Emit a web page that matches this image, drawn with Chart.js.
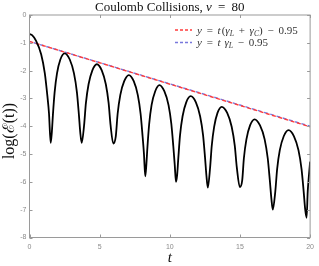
<!DOCTYPE html>
<html><head><meta charset="utf-8">
<script src="https://cdn.jsdelivr.net/npm/chart.js@4"></script>
<style>html,body{margin:0;padding:0;background:#fff}#wrap{width:319px;height:266px;position:relative}</style>
</head><body><div id="wrap"><canvas id="c" width="319" height="266"></canvas></div>
<script>
// time samples (t) and log(E(t))
const tValues = [
  0, 0.2, 0.45, 0.83, 1.09, 1.27, 1.39, 1.51,
  1.59, 1.67, 1.79, 1.96, 2.20, 2.50, 2.87, 3.17, 3.38, 3.52, 3.62, 3.72,
  3.89, 4.02, 4.21, 4.48, 4.80, 5.15, 5.44, 5.64, 5.78, 5.97,
  6.15, 6.28, 6.47, 6.75, 7.08, 7.43, 7.72, 7.92, 8.06, 8.16, 8.25,
  8.33, 8.41, 8.53, 8.70, 8.96, 9.26, 9.61, 9.91, 10.11, 10.25, 10.35, 10.44,
  10.52, 10.61, 10.73, 10.91, 11.17, 11.49, 11.86, 12.16, 12.37, 12.51, 12.61, 12.71,
  12.87, 12.99, 13.16, 13.40, 13.70, 14.09, 14.41, 14.63, 14.78, 14.99,
  15.16, 15.28, 15.46, 15.72, 16.04, 16.43, 16.76, 16.98, 17.13, 17.24, 17.34,
  17.52, 17.65, 17.84, 18.12, 18.46, 18.85, 19.17, 19.39, 19.54, 19.65, 19.75,
  19.83, 19.92, 20.0
];
const logE = [
  -0.69, -0.73, -0.91, -1.41, -2.09, -2.89, -3.54, -4.60,
  -4.23, -3.58, -2.78, -2.10, -1.60, -1.38, -1.60, -2.10, -2.78, -3.58, -4.23, -4.60,
  -3.97, -3.17, -2.49, -1.99, -1.77, -1.99, -2.49, -3.17, -3.97, -4.62,
  -4.36, -3.56, -2.88, -2.38, -2.16, -2.38, -2.88, -3.56, -4.36, -5.01, -5.80,
  -5.37, -4.72, -3.92, -3.24, -2.74, -2.52, -2.74, -3.24, -3.92, -4.72, -5.37, -6.00,
  -5.77, -5.12, -4.32, -3.64, -3.14, -2.92, -3.14, -3.64, -4.32, -5.12, -5.77, -6.21,
  -5.50, -4.70, -4.02, -3.52, -3.30, -3.52, -4.02, -4.70, -5.50, -6.19,
  -5.95, -5.15, -4.47, -3.97, -3.75, -3.97, -4.47, -5.15, -5.95, -6.60, -7.00,
  -6.34, -5.54, -4.86, -4.36, -4.14, -4.36, -4.86, -5.54, -6.34, -6.99, -7.29,
  -6.35, -5.75, -5.27
];
// fitted lines: endpoints at t = 0 and t = 20
const fitT = [0, 20];
const redFitY = [-0.95, -4.02];   // y = t(γL + γC) − 0.95
const blueFitY = [-0.95, -4.00];  // y = t γL − 0.95
const xTicks = [0, 5, 10, 15, 20];
const yTicks = [0, -1, -2, -3, -4, -5, -6, -7, -8];

const SERIF = '"Liberation Serif", "DejaVu Serif", serif';

function fontOf(s, size) {
  return (s.it ? 'italic ' : '') + (s.sub ? size * 0.7 : size) + 'px ' + SERIF;
}
function segWidth(ctx, segs, size) {
  let w = 0;
  for (const s of segs) {
    if (s.gap) { w += s.gap; continue; }
    ctx.font = fontOf(s, size);
    w += ctx.measureText(s.t).width;
  }
  return w;
}
function drawSegs(ctx, segs, x, y, size, color) {
  ctx.fillStyle = color;
  ctx.textBaseline = 'alphabetic';
  ctx.textAlign = 'left';
  for (const s of segs) {
    if (s.gap) { x += s.gap; continue; }
    ctx.font = fontOf(s, size);
    ctx.fillText(s.t, x, y + (s.sub ? size * 0.22 : 0));
    x += ctx.measureText(s.t).width;
  }
  return x;
}

const decor = {
  id: 'decor',
  afterDraw(chart) {
    const ctx = chart.ctx;
    const a = chart.chartArea;
    const xs = chart.scales.x, ys = chart.scales.y;
    ctx.save();
    // frame
    ctx.strokeStyle = '#9a9a9a';
    ctx.lineWidth = 1;
    ctx.strokeRect(a.left, a.top, a.right - a.left, a.bottom - a.top);
    // inward ticks on all sides
    ctx.beginPath();
    for (const v of xTicks) {
      const px = Math.round(xs.getPixelForValue(v)) + 0.5;
      ctx.moveTo(px, a.bottom); ctx.lineTo(px, a.bottom - 3);
      ctx.moveTo(px, a.top); ctx.lineTo(px, a.top + 3);
    }
    for (const v of yTicks) {
      const py = Math.round(ys.getPixelForValue(v)) + 0.5;
      ctx.moveTo(a.left, py); ctx.lineTo(a.left + 3, py);
      ctx.moveTo(a.right, py); ctx.lineTo(a.right - 3, py);
    }
    ctx.stroke();

    // title
    const tSegs = [{t:'Coulomb Collisions, '}, {t:'ν', it:true}, {gap:3}, {t:' = '}, {gap:3}, {t:'80'}];
    const tSize = 13;
    const tw = segWidth(ctx, tSegs, tSize);
    drawSegs(ctx, tSegs, (a.left + a.right) / 2 - tw / 2, 10.5, tSize, '#111');

    // x label
    ctx.font = 'italic 15px ' + SERIF;
    ctx.fillStyle = '#111';
    ctx.textAlign = 'center';
    ctx.textBaseline = 'alphabetic';
    ctx.fillText('t', (a.left + a.right) / 2, 262);

    // y label
    ctx.save();
    ctx.translate(14, 131);
    ctx.rotate(-Math.PI / 2);
    ctx.font = '16px ' + SERIF;
    ctx.textAlign = 'center';
    ctx.fillText('log(ℰ(t))', 0, 0);
    ctx.restore();

    // legend
    const lSize = 11;
    const rows = [
      {color: '#ff3b3b', y: 30, segs: [{t:'y', it:true}, {gap:2}, {t:' = '}, {gap:2}, {t:'t', it:true}, {gap:1}, {t:'('}, {t:'γ', it:true}, {t:'L', it:true, sub:true}, {gap:2}, {t:' + '}, {gap:2}, {t:'γ', it:true}, {t:'C', it:true, sub:true}, {t:')'}, {gap:2}, {t:' − '}, {gap:2}, {t:'0.95'}]},
      {color: '#7878dc', y: 42.5, segs: [{t:'y', it:true}, {gap:2}, {t:' = '}, {gap:2}, {t:'t', it:true}, {gap:1}, {t:' '}, {t:'γ', it:true}, {t:'L', it:true, sub:true}, {gap:2}, {t:' − '}, {gap:2}, {t:'0.95'}]}
    ];
    for (const r of rows) {
      ctx.strokeStyle = r.color;
      ctx.lineWidth = 1.4;
      ctx.setLineDash([3, 2]);
      ctx.beginPath();
      ctx.moveTo(175, r.y); ctx.lineTo(192, r.y);
      ctx.stroke();
      ctx.setLineDash([]);
      drawSegs(ctx, r.segs, 197, r.y + 3.5, lSize, '#333');
    }
    ctx.restore();
  }
};

new Chart(document.getElementById('c').getContext('2d'), {
  type: 'line',
  data: {
    datasets: [
      {
        label: 'log(E(t))',
        data: tValues.map((t, i) => ({x: t, y: logE[i]})),
        borderColor: '#000', borderWidth: 1.8, pointRadius: 0,
        cubicInterpolationMode: 'monotone', fill: false
      },
      {
        label: 'y = t(γL + γC) − 0.95',
        data: fitT.map((t, i) => ({x: t, y: redFitY[i]})),
        borderColor: '#ff3b3b', borderWidth: 1.4, borderDash: [4, 2.5], pointRadius: 0, fill: false
      },
      {
        label: 'y = t γL − 0.95',
        data: fitT.map((t, i) => ({x: t, y: blueFitY[i]})),
        borderColor: '#7878dc', borderWidth: 1.4, borderDash: [4, 2.5], borderDashOffset: 2, pointRadius: 0, fill: false
      }
    ]
  },
  options: {
    responsive: false,
    animation: false,
    devicePixelRatio: 1,
    layout: {padding: {top: 15, right: 5.5, left: 0, bottom: 0}},
    plugins: {legend: {display: false}, tooltip: {enabled: false}, title: {display: false}},
    scales: {
      x: {
        type: 'linear', min: 0, max: 20,
        afterBuildTicks: s => { s.ticks = xTicks.map(v => ({value: v})); },
        afterFit: s => { s.height = 28.5; },
        grid: {display: false, drawTicks: false},
        border: {display: false},
        ticks: {color: '#8a8a8a', font: {family: 'Liberation Sans', size: 7}, padding: 5, maxRotation: 0, autoSkip: false}
      },
      y: {
        type: 'linear', min: -8, max: 0,
        afterBuildTicks: s => { s.ticks = yTicks.map(v => ({value: v})); },
        afterFit: s => { s.width = 29.5; },
        grid: {display: false, drawTicks: false},
        border: {display: false},
        ticks: {color: '#8a8a8a', font: {family: 'Liberation Sans', size: 7}, padding: 3, autoSkip: false}
      }
    }
  },
  plugins: [decor]
});
</script>
</body></html>
